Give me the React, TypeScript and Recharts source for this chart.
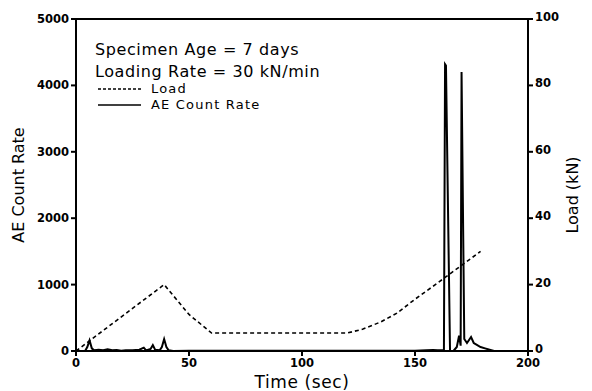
import {
  LineChart,
  Line,
  XAxis,
  YAxis,
  ReferenceLine,
} from "recharts";

// AE count rate trace (sec, counts)
const aeTime = [
  0, 4, 5, 6, 7, 8, 10, 12, 14, 16, 18, 20, 22, 25, 28, 30, 31, 33, 34, 35, 37, 38, 39, 40, 41, 43,
  50, 60, 80, 100, 120, 140, 150, 155, 158, 160, 162.8, 163.3, 163.7, 165.5, 167, 168.5, 169.5,
  170.2, 170.6, 171.8, 173, 174.8, 176, 177, 179, 181, 183, 185, 200,
];
const aeCount = [
  0, 0, 60, 160, 40, 10, 20, 10, 25, 10, 15, 5, 10, 10, 20, 50, 10, 30, 90, 20, 10, 60, 180, 60, 10, 0,
  5, 5, 5, 5, 5, 5, 5, 10, 15, 10, 10, 4320, 4300, 0, 0, 60, 230,
  80, 4200, 180, 120, 210, 120, 100, 60, 40, 20, 0, 0,
];

// Load trace (sec, kN)
const loadTime = [0, 39, 50, 60, 120, 127, 135, 142, 150, 159, 165, 171, 179];
const loadValue = [0, 20, 11, 5.4, 5.4, 6.6, 8.8, 11.4, 15.6, 20, 23, 26, 30];

const xTicks = [0, 50, 100, 150, 200];
const aeTicks = [0, 1000, 2000, 3000, 4000, 5000];
const loadTicks = [0, 20, 40, 60, 80, 100];

const aeData = aeTime.map((t, i) => ({ t, count: aeCount[i] }));
const loadData = loadTime.map((t, i) => ({ t, load: loadValue[i] }));

const tickFont = {
  fill: "#000",
  fontSize: 11.5,
  fontFamily: "DejaVu Sans",
  fontWeight: 700,
};
const labelFont = "DejaVu Sans";

function LeftLabel({ viewBox }: any) {
  const y = viewBox.y + viewBox.height / 2;
  return (
    <text
      x={24}
      y={y}
      transform={`rotate(-90, 24, ${y})`}
      textAnchor="middle"
      fontSize={16}
      fontFamily={labelFont}
      fill="#000"
    >
      AE Count Rate
    </text>
  );
}

function RightLabel({ viewBox }: any) {
  const y = viewBox.y + viewBox.height / 2 + 10;
  return (
    <text
      x={578}
      y={y}
      transform={`rotate(-90, 578, ${y})`}
      textAnchor="middle"
      fontSize={16}
      fontFamily={labelFont}
      fill="#000"
    >
      Load (kN)
    </text>
  );
}

function BottomLabel({ viewBox }: any) {
  return (
    <text
      x={viewBox.x + viewBox.width / 2}
      y={388}
      textAnchor="middle"
      fontSize={17}
      letterSpacing={0.6}
      fontFamily={labelFont}
      fill="#000"
    >
      Time (sec)
    </text>
  );
}

export default function App() {
  return (
    <div style={{ position: "absolute", left: 0, top: 0, width: 592, height: 391, background: "#fff" }}>
      <LineChart
        width={592}
        height={391}
        margin={{ top: 19, right: 0, left: 0, bottom: 0 }}
      >
        <XAxis
          dataKey="t"
          type="number"
          domain={[0, 200]}
          ticks={xTicks}
          allowDuplicatedCategory={false}
          height={40}
          stroke="#000"
          strokeWidth={2}
          tickSize={5}
          tick={{ ...tickFont, dy: 1 }}
          label={<BottomLabel />}
        />
        <YAxis
          yAxisId="ae"
          orientation="left"
          domain={[0, 5000]}
          ticks={aeTicks}
          width={76}
          stroke="#000"
          strokeWidth={2}
          tickSize={5}
          tick={tickFont}
          label={<LeftLabel />}
        />
        <YAxis
          yAxisId="load"
          orientation="right"
          domain={[0, 100]}
          ticks={loadTicks}
          width={64}
          stroke="#000"
          strokeWidth={2}
          tickSize={5}
          tick={{ ...tickFont, dy: -2 }}
          label={<RightLabel />}
        />
        <ReferenceLine yAxisId="ae" y={5000} stroke="#000" strokeWidth={2} />
        <Line
          yAxisId="load"
          data={loadData}
          dataKey="load"
          type="linear"
          stroke="#000"
          strokeWidth={1.6}
          strokeDasharray="4 3"
          dot={false}
          isAnimationActive={false}
        />
        <Line
          yAxisId="ae"
          data={aeData}
          dataKey="count"
          type="linear"
          stroke="#000"
          strokeWidth={2}
          dot={false}
          isAnimationActive={false}
        />
      </LineChart>
      <svg
        width={592}
        height={391}
        style={{ position: "absolute", left: 0, top: 0, pointerEvents: "none" }}
        fontFamily={labelFont}
      >
        <text x={95} y={55} fontSize={16} letterSpacing={0.6} fill="#000">
          Specimen Age = 7 days
        </text>
        <text x={95} y={77} fontSize={16} letterSpacing={0.6} fill="#000">
          Loading Rate = 30 kN/min
        </text>
        <line x1={98} y1={89} x2={141} y2={89} stroke="#000" strokeWidth={1.4} strokeDasharray="3 2" />
        <text x={151} y={93} fontSize={13} letterSpacing={1.2} fill="#000">
          Load
        </text>
        <line x1={98} y1={105} x2={141} y2={105} stroke="#000" strokeWidth={1.6} />
        <text x={151} y={109} fontSize={13} letterSpacing={1.2} fill="#000">
          AE Count Rate
        </text>
      </svg>
    </div>
  );
}
